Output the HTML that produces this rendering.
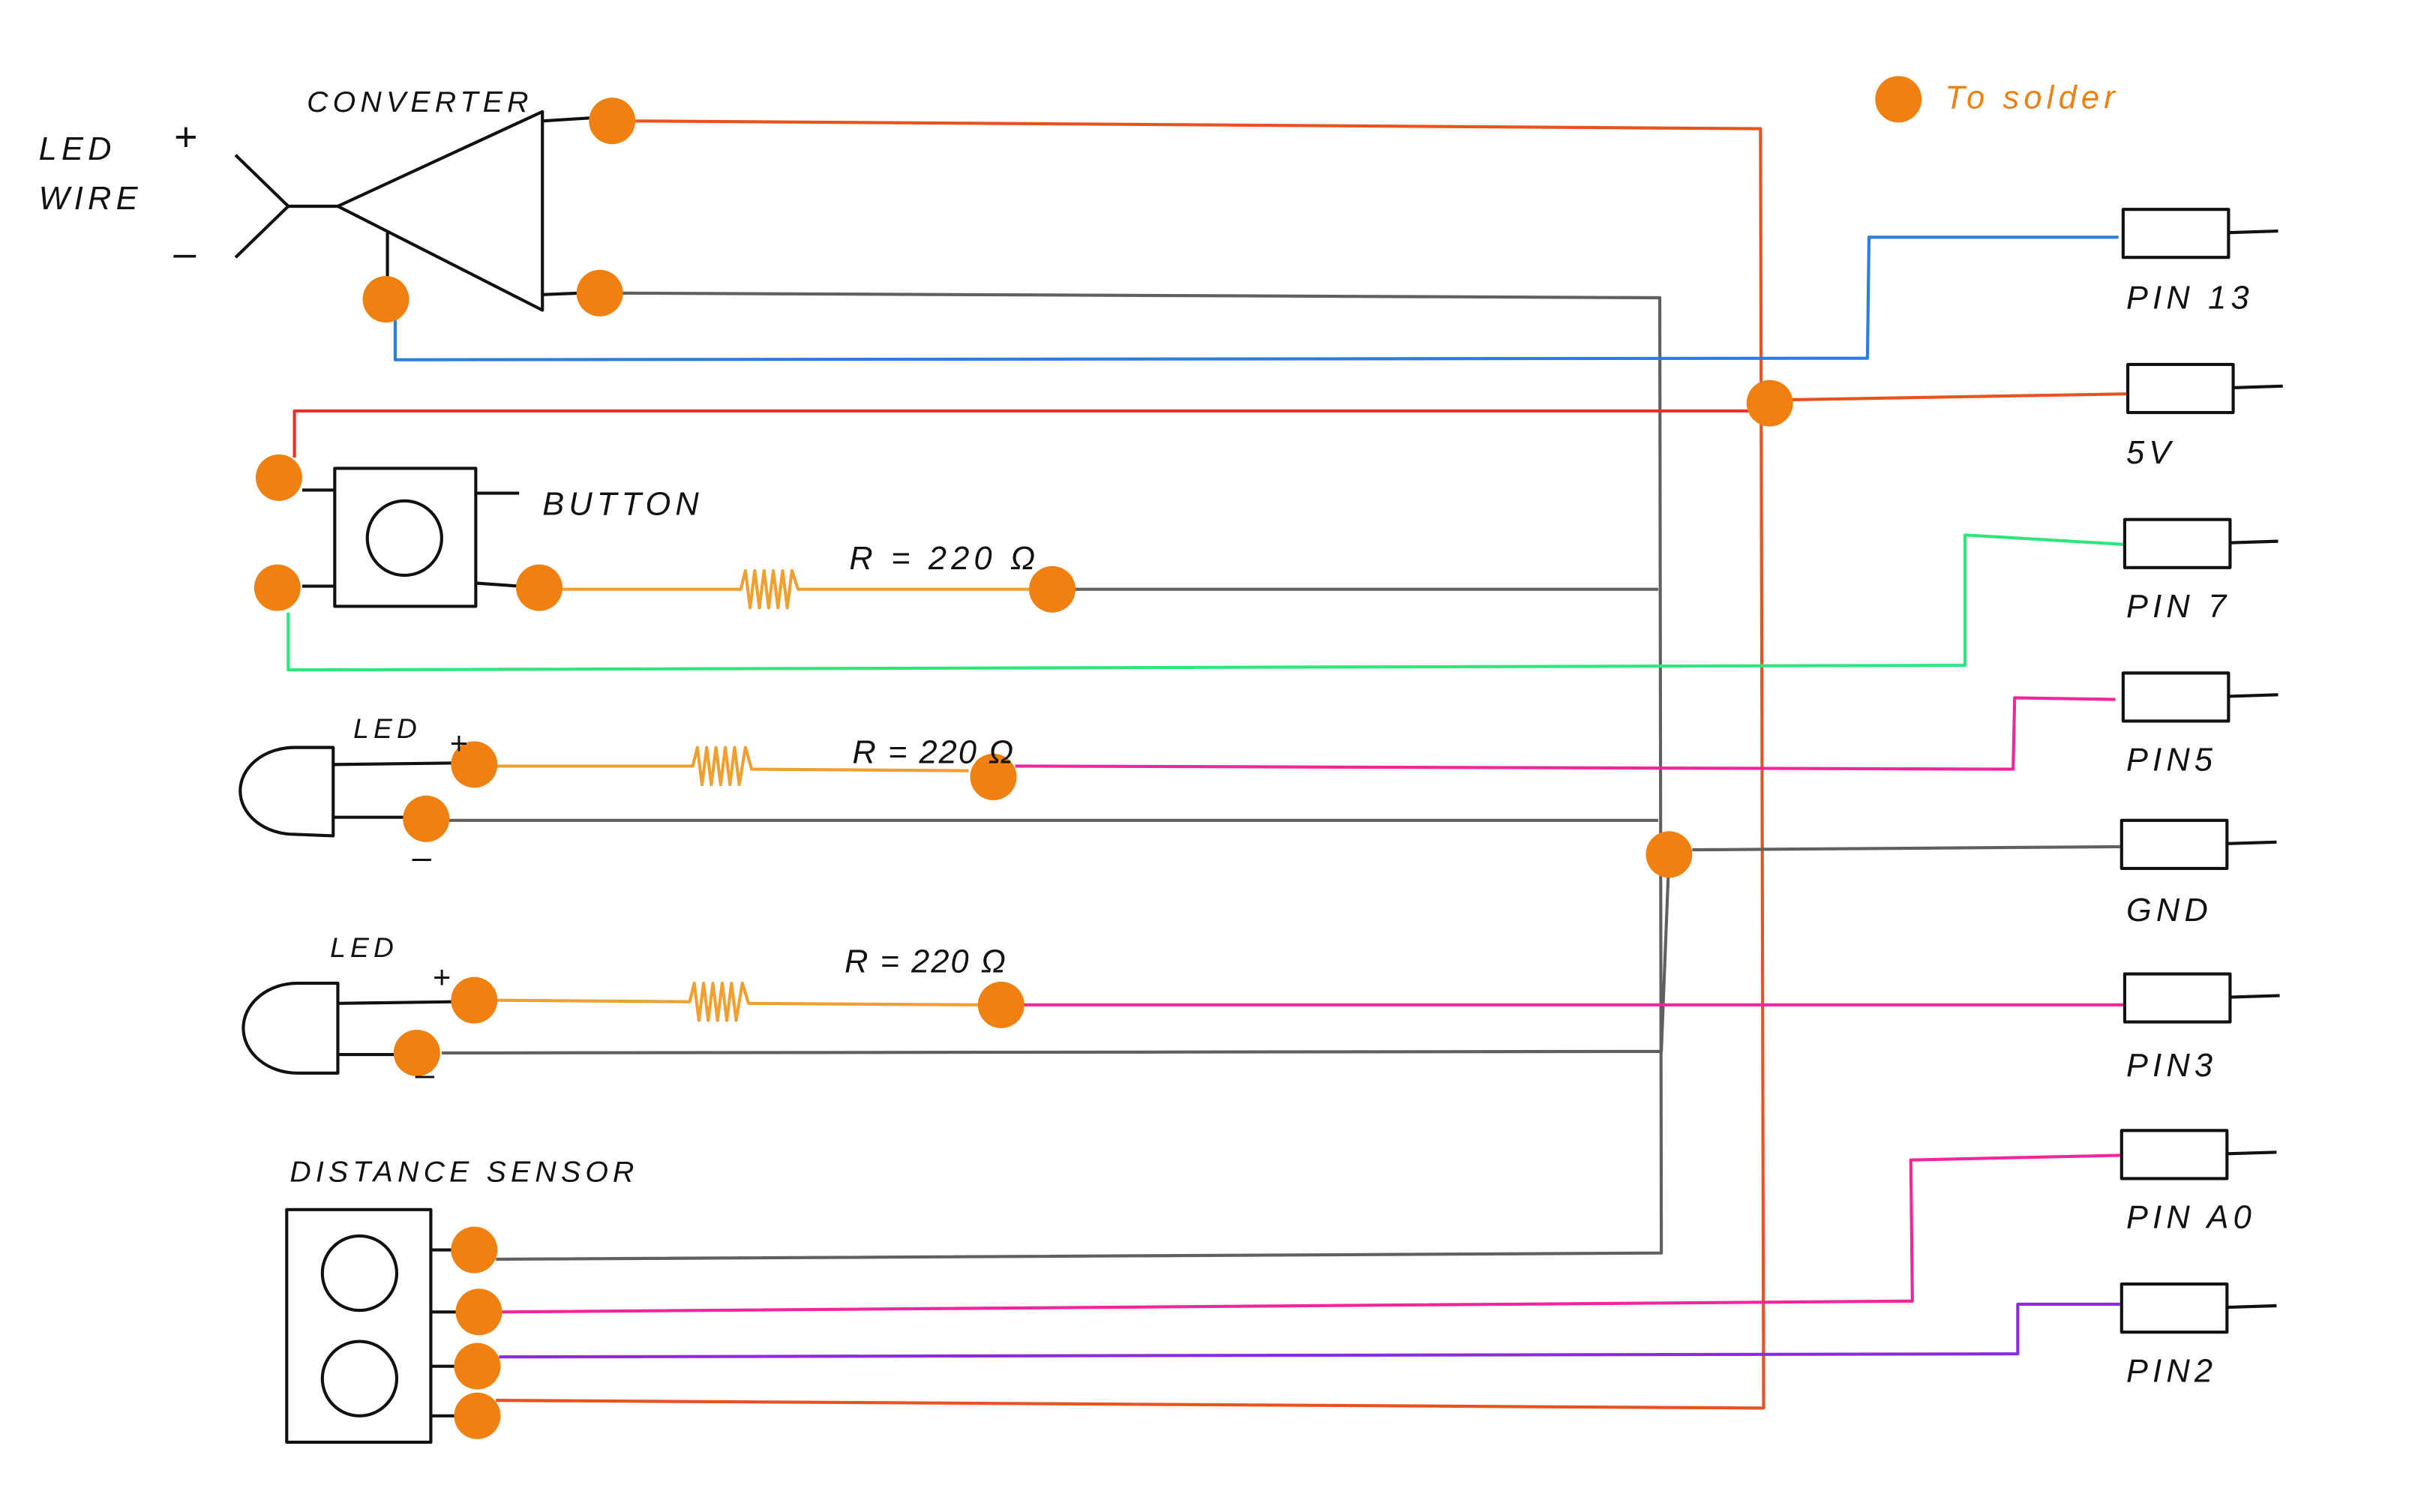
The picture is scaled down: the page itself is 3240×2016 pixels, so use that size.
<!DOCTYPE html>
<html><head><meta charset="utf-8"><style>
html,body{margin:0;padding:0;background:#fff;}
svg{display:block}
text{font-family:"Liberation Sans",sans-serif;font-style:italic;font-size:21px;fill:#111;letter-spacing:3px}
</style></head><body>
<svg width="3240" height="2016" viewBox="0 0 1568 975" preserveAspectRatio="none" xmlns="http://www.w3.org/2000/svg">
<rect width="1568" height="975" fill="#fff"/>
<g fill="none" stroke-width="2" stroke-linejoin="round">
<polyline stroke="#e8531f" points="410,78 1136,83 1138,908 320,903"/>
<polyline stroke="#606060" points="400,189 1071,192 1072,808 320,812"/>
<polyline stroke="#606060" points="692,380 1070,380"/>
<polyline stroke="#606060" points="288,529 1070,529"/>
<polyline stroke="#606060" points="285,679 1072,678 1077,551"/>
<polyline stroke="#606060" points="1092,548 1368,546"/>
<polyline stroke="#2a7de1" points="255,205 255,232 1205,231 1206,153 1367,153"/>
<polyline stroke="#e8302a" points="190,295 190,265 1142,265"/>
<polyline stroke="#e8531f" points="1142,258 1372,254"/>
<polyline stroke="#2ee67e" points="186,395 186,432 1268,429 1268,345 1370,351"/>
<polyline stroke="#f0269a" points="655,494 1299,496 1300,450 1365,451"/>
<polyline stroke="#f0269a" points="660,648 1370,648"/>
<polyline stroke="#f0269a" points="322,846 1234,839 1233,748 1368,745"/>
<polyline stroke="#8a2be2" points="322,875 1302,873 1302,841 1368,841"/>
<g stroke="#f0a030">
<polyline points="360,380 478,380 481,368 484,392 487,368 490,392 493,368 496,392 499,368 502,392 505,368 508,392 511,368 515,380 665,380"/>
<polyline points="320,494 447,494 450,482 453,506 456,482 459,506 462,482 465,506 468,482 471,506 474,482 477,506 481,482 485,496 625,497"/>
<polyline points="320,645 445,646 448,634 451,658 454,634 457,658 460,634 463,658 466,634 469,658 472,634 475,658 479,634 483,647 632,648"/>
</g>
<g stroke="#111">
<polyline points="152,100 186,133 152,166"/>
<line x1="186" y1="133" x2="218" y2="133"/>
<polygon points="218,133 350,72 350,200"/>
<line x1="350" y1="78" x2="382" y2="76"/>
<line x1="350" y1="190" x2="374" y2="189"/>
<line x1="250" y1="150" x2="250" y2="180"/>
<rect x="216" y="302" width="91" height="89"/>
<circle cx="261" cy="347" r="24"/>
<line x1="195" y1="316" x2="216" y2="316"/>
<line x1="195" y1="378" x2="216" y2="378"/>
<line x1="307" y1="318" x2="335" y2="318"/>
<line x1="307" y1="376" x2="335" y2="378"/>
<path d="M215,482 L190,482 A35,28 0 0 0 190,538 L215,539 Z"/>
<line x1="215" y1="493" x2="295" y2="492"/>
<line x1="215" y1="527" x2="265" y2="527"/>
<path d="M218,634 L192,634 A35,29 0 0 0 192,692 L218,692 Z"/>
<line x1="218" y1="647" x2="292" y2="646"/>
<line x1="218" y1="680" x2="258" y2="680"/>
<rect x="185" y="780" width="93" height="150"/>
<circle cx="232" cy="821" r="24"/>
<circle cx="232" cy="889" r="24"/>
<line x1="278" y1="806" x2="296" y2="806"/>
<line x1="278" y1="846" x2="296" y2="846"/>
<line x1="278" y1="881" x2="296" y2="881"/>
<line x1="278" y1="913" x2="296" y2="913"/>
<rect x="1370" y="135" width="68" height="31"/><line x1="1438" y1="150" x2="1470" y2="149"/>
<rect x="1373" y="235" width="68" height="31"/><line x1="1441" y1="250" x2="1473" y2="249"/>
<rect x="1371" y="335" width="68" height="31"/><line x1="1439" y1="350" x2="1470" y2="349"/>
<rect x="1370" y="434" width="68" height="31"/><line x1="1438" y1="449" x2="1470" y2="448"/>
<rect x="1369" y="529" width="68" height="31"/><line x1="1437" y1="544" x2="1469" y2="543"/>
<rect x="1371" y="628" width="68" height="31"/><line x1="1439" y1="643" x2="1471" y2="642"/>
<rect x="1369" y="729" width="68" height="31"/><line x1="1437" y1="744" x2="1469" y2="743"/>
<rect x="1369" y="828" width="68" height="31"/><line x1="1437" y1="843" x2="1469" y2="842"/>
</g>
</g>
<g fill="#f08010">
<ellipse cx="395" cy="78" rx="15" ry="15"/>
<ellipse cx="387" cy="189" rx="15" ry="15"/>
<ellipse cx="249" cy="193" rx="15" ry="15"/>
<ellipse cx="1142" cy="260" rx="15" ry="15"/>
<ellipse cx="180" cy="308" rx="15" ry="15"/>
<ellipse cx="179" cy="379" rx="15" ry="15"/>
<ellipse cx="348" cy="379" rx="15" ry="15"/>
<ellipse cx="679" cy="380" rx="15" ry="15"/>
<ellipse cx="306" cy="493" rx="15" ry="15"/>
<ellipse cx="275" cy="528" rx="15" ry="15"/>
<ellipse cx="641" cy="501" rx="15" ry="15"/>
<ellipse cx="1077" cy="551" rx="15" ry="15"/>
<ellipse cx="306" cy="645" rx="15" ry="15"/>
<ellipse cx="269" cy="679" rx="15" ry="15"/>
<ellipse cx="646" cy="648" rx="15" ry="15"/>
<ellipse cx="306" cy="806" rx="15" ry="15"/>
<ellipse cx="309" cy="846" rx="15" ry="15"/>
<ellipse cx="308" cy="881" rx="15" ry="15"/>
<ellipse cx="308" cy="913" rx="15" ry="15"/>
<ellipse cx="1225" cy="64" rx="15" ry="15"/>
</g>
<text x="25" y="103">LED</text>
<text x="25" y="135">WIRE</text>
<text x="112" y="97" style="font-size:26px">+</text>
<text x="112" y="172" style="font-size:26px">–</text>
<text x="198" y="72" style="font-size:19px">CONVERTER</text>
<text x="350" y="332">BUTTON</text>
<text x="548" y="367">R = 220 Ω</text>
<text x="228" y="476" style="font-size:18px">LED</text>
<text x="290" y="486" style="font-size:20px">+</text>
<text x="266" y="560" style="font-size:22px">–</text>
<text x="550" y="492" style="letter-spacing:1px">R = 220 Ω</text>
<text x="213" y="617" style="font-size:18px">LED</text>
<text x="279" y="637" style="font-size:20px">+</text>
<text x="268" y="700" style="font-size:22px">–</text>
<text x="545" y="627" style="letter-spacing:1px">R = 220 Ω</text>
<text x="187" y="762" style="font-size:19px">DISTANCE SENSOR</text>
<text x="1372" y="199">PIN 13</text>
<text x="1372" y="299">5V</text>
<text x="1372" y="398">PIN 7</text>
<text x="1372" y="497">PIN5</text>
<text x="1372" y="594">GND</text>
<text x="1372" y="694">PIN3</text>
<text x="1372" y="792">PIN A0</text>
<text x="1372" y="891">PIN2</text>
<text x="1255" y="70" style="fill:#f08010">To solder</text>
</svg>
</body></html>
